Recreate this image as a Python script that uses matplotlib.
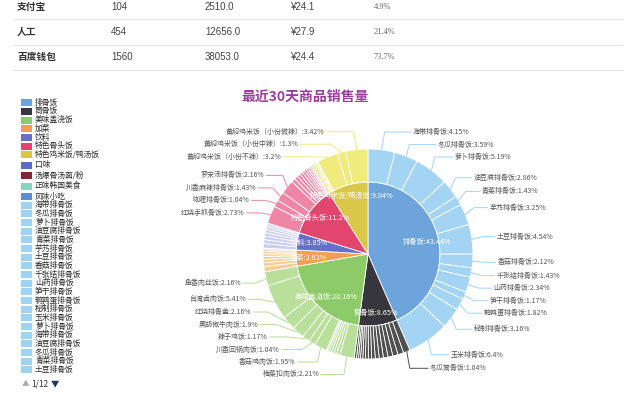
import matplotlib
matplotlib.use('Agg')
import matplotlib.pyplot as plt
from matplotlib.patches import Rectangle
import numpy as np

plt.rcParams['font.family'] = ['Noto Sans CJK SC', 'DejaVu Sans']

W, H = 634, 397

# ---- table at the top (partly scrolled out) ----
pay_names = ['支付宝', '人工', '百度钱包']
pay_orders = [104, 454, 1560]
pay_amounts = [2510.0, 12656.0, 38053.0]
pay_avg = [24.1, 27.9, 24.4]
pay_share = [4.9, 21.4, 73.7]

# ---- inner ring: categories ----
inner_names = ['排骨饭', '筒骨饭', '美味盖浇饭', '加菜', '饮料', '特色骨头饭', '特色鸡米饭/鸭汤饭']
inner_vals = [43.44, 8.65, 20.16, 3.63, 3.85, 11.2, 9.04]
inner_colors = ['#6ea4dc', '#36363c', '#8dcb68', '#f0a050', '#6670c8', '#e2456e', '#d9c748']
outer_colors = ['#a3d4f4', '#505050', '#b8e09a', '#f9cd98', '#c9cff2', '#ef86a6', '#f0eb7c']

extra_names = ['口味', '汤爆骨汤面/粉', '正味韩国美食', '风味小吃']
extra_colors = ['#5b6ac8', '#8a2434', '#8ad6c6', '#5a8ed4']

# ---- outer ring: dishes per category ('' = too small to label) ----
ribs_names = ['海带排骨饭', '冬瓜排骨饭', '萝卜排骨饭', '油豆腐排骨饭', '青菜排骨饭', '芋艿排骨饭',
              '土豆排骨饭', '香菇排骨饭', '千张结排骨饭', '山药排骨饭', '笋干排骨饭', '鹌鹑蛋排骨饭',
              '秘制排骨饭', '玉米排骨饭']
ribs_vals = [4.15, 3.59, 5.19, 2.86, 1.43, 3.25, 4.54, 2.12, 1.43, 2.34, 1.17, 1.82, 3.16, 6.4]

bone_names = ['冬瓜筒骨饭'] + [''] * 14
bone_vals = [1.04, 0.9, 0.8, 0.75, 0.7, 0.65, 0.6, 0.55, 0.5, 0.45, 0.4, 0.35, 0.3, 0.31, 0.35]

rice_names = ['梅菜扣肉饭', '', '', '', '', '', '', '香菇鸡肉饭', '川香回锅肉饭', '辣子鸡饭',
              '黑胡椒牛肉饭', '红烧排骨盖', '台湾卤肉饭', '鱼香肉丝饭']
rice_vals = [2.21, 0.5, 0.45, 0.4, 0.35, 0.3, 0.16, 1.95, 1.04, 1.17, 1.9, 2.16, 5.41, 2.16]

side_names = [''] * 8
side_vals = [0.8, 0.6, 0.5, 0.45, 0.4, 0.35, 0.3, 0.23]

drink_names = [''] * 8
drink_vals = [0.7, 0.6, 0.55, 0.5, 0.45, 0.4, 0.35, 0.3]

bonehead_names = ['红烧手抓骨饭', '咖喱排骨饭', '川香麻辣排骨饭', '罗宋汤排骨饭'] + [''] * 10
bonehead_vals = [2.73, 1.04, 1.43, 2.16, 0.6, 0.55, 0.5, 0.45, 0.4, 0.35, 0.3, 0.25, 0.24, 0.2]

chicken_names = ['', '', '', '', '黄焖鸡米饭（小份不辣）', '黄焖鸡米饭（小份中辣）', '黄焖鸡米饭（小份微辣）']
chicken_vals = [0.4, 0.3, 0.25, 0.17, 3.2, 1.3, 3.42]

groups = [(ribs_names, ribs_vals), (bone_names, bone_vals), (rice_names, rice_vals),
          (side_names, side_vals), (drink_names, drink_vals), (bonehead_names, bonehead_vals),
          (chicken_names, chicken_vals)]

legend_dishes = ['海带排骨饭', '冬瓜排骨饭', '萝卜排骨饭', '油豆腐排骨饭', '青菜排骨饭', '芋艿排骨饭',
                 '土豆排骨饭', '香菇排骨饭', '千张结排骨饭', '山药排骨饭', '笋干排骨饭', '鹌鹑蛋排骨饭',
                 '秘制排骨饭', '玉米排骨饭', '萝卜排骨饭', '海带排骨饭', '油豆腐排骨饭', '冬瓜排骨饭',
                 '青菜排骨饭', '土豆排骨饭']

outer_names, outer_vals, outer_group = [], [], []
for gi, (names, vals) in enumerate(groups):
    outer_names += names
    outer_vals += vals
    outer_group += [gi] * len(vals)

fig = plt.figure(figsize=(W / 100, H / 100), dpi=100)
ax = fig.add_axes([0, 0, 1, 1])

# ---- table ----
row_y = [7, 32, 57]
for y in [18.5, 45, 70]:
    ax.plot([13, 622], [H - y, H - y], color='#e6e6e6', lw=0.8)
for i in range(3):
    y = H - row_y[i]
    ax.text(17, y, pay_names[i], fontsize=7, color='#333333', va='center', fontweight='bold')
    ax.text(111, y, str(pay_orders[i]), fontsize=7, color='#444444', va='center', family='Liberation Sans')
    ax.text(205, y, f'{pay_amounts[i]:.1f}', fontsize=7, color='#444444', va='center', family='Liberation Sans')
    ax.text(290, y, f'¥{pay_avg[i]}', fontsize=7, color='#444444', va='center', family='Liberation Sans')
    ax.text(374, y, f'{pay_share[i]}%', fontsize=6, color='#666666', va='center', family='Liberation Serif')

# ---- title ----
ax.text(305, H - 97, '最近30天商品销售量', fontsize=10, fontweight='bold', color='#9c3d9c',
        ha='center', va='center')

# ---- pie ----
cx, cy = 368, H - 254
R_in, R_out = 72, 105
w_in, _ = ax.pie(inner_vals, radius=R_in, center=(cx, cy), startangle=90, counterclock=False,
                 colors=inner_colors, frame=True,
                 wedgeprops=dict(edgecolor='white', linewidth=0.6))
w_out, _ = ax.pie(outer_vals, radius=R_out, center=(cx, cy), startangle=90, counterclock=False,
                  colors=[outer_colors[g] for g in outer_group], frame=True,
                  wedgeprops=dict(width=R_out - R_in, edgecolor='white', linewidth=0.6))
for w in w_in:
    w.set_zorder(1)
for w in w_out:
    w.set_zorder(2)

# inner labels
for w, name, v in zip(w_in, inner_names, inner_vals):
    t = np.deg2rad((w.theta1 + w.theta2) / 2)
    ax.text(cx + 60 * np.cos(t), cy + 60 * np.sin(t), f'{name}:{v:g}%', fontsize=5.2,
            color='white', ha='center', va='center', zorder=3)

# outer labels with leader lines
labels = []
for w, name, v, g in zip(w_out, outer_names, outer_vals, outer_group):
    if not name:
        continue
    t = np.deg2rad((w.theta1 + w.theta2) / 2)
    side = 1 if np.cos(t) >= 0 else -1
    labels.append(dict(t=t, side=side, y=cy + 123 * np.sin(t), text=f'{name}:{v:g}%',
                       color=outer_colors[g]))

gap = 12.5
for side in (1, -1):
    grp = sorted([l for l in labels if l['side'] == side], key=lambda l: -l['y'])
    upper = [l for l in grp if l['y'] >= cy]
    lower = [l for l in grp if l['y'] < cy]
    # upper half: push downwards from the top
    for a, b in zip(upper, upper[1:]):
        b['y'] = min(b['y'], a['y'] - gap)
    # lower half: push upwards from the bottom
    lower = lower[::-1]
    for a, b in zip(lower, lower[1:]):
        b['y'] = max(b['y'], a['y'] + gap)

for l in labels:
    t, side, y = l['t'], l['side'], l['y']
    dy = y - cy
    px, py = cx + R_out * np.cos(t), cy + R_out * np.sin(t)
    ex = side * max(np.sqrt(max(116 ** 2 - dy ** 2, 0)), abs(R_out * np.cos(t)) + 3)
    tx = side * max(np.sqrt(max(130 ** 2 - dy ** 2, 0)), abs(ex) + 8)
    ax.plot([px, cx + ex, cx + tx - side * 2], [py, y, y], color=l['color'], lw=0.7, zorder=4)
    ax.text(cx + tx, y, l['text'], fontsize=5, color='#555555', va='center',
            ha='left' if side > 0 else 'right', zorder=5)

# ---- legend ----
leg_names = inner_names + extra_names + legend_dishes
leg_colors = inner_colors + extra_colors + ['#9fd3f2'] * len(legend_dishes)
ly = 102.7
for i, (name, col) in enumerate(zip(leg_names, leg_colors)):
    ax.add_patch(Rectangle((21, H - ly - 3.5), 11, 7, facecolor=col, edgecolor='none'))
    ax.text(35, H - ly, name, fontsize=5.6, color='#2a2a2a', va='center')
    ly += 8.7 if i < 6 else (10.4 if i < 10 else 8.67)
ax.text(22, H - 384, '▲', fontsize=5.5, color='#aaaaaa', va='center')
ax.text(31, H - 384, '1/12', fontsize=6, color='#333333', va='center')
ax.text(51, H - 384, '▼', fontsize=6, color='#1f3366', va='center')

ax.set_xlim(0, W)
ax.set_ylim(0, H)
ax.set_aspect('equal')
ax.axis('off')
fig.savefig('out.png', dpi=100)
